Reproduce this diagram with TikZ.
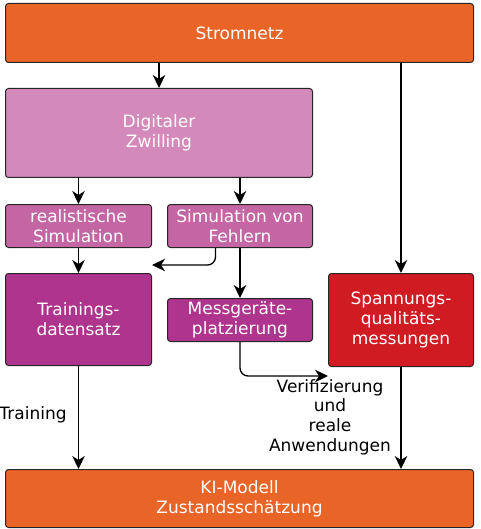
\documentclass[tikz,border=0pt]{standalone}
\usepackage{fontspec}
\setmainfont{DejaVu Sans}
\usetikzlibrary{arrows.meta}
\definecolor{corange}{RGB}{233,101,39}
\definecolor{cpinkA}{RGB}{211,137,185}
\definecolor{cpinkB}{RGB}{196,102,164}
\definecolor{cmag}{RGB}{175,52,142}
\definecolor{cred}{RGB}{209,27,34}
\begin{document}
\begin{tikzpicture}[x=1pt,y=-1pt,
  every node/.style={font=\fontsize{17pt}{19.7pt}\selectfont, align=center, inner sep=0pt},
  box/.style={draw=black!85, line width=1pt, rounded corners=3pt, text=white, anchor=north west},
  arr/.style={-{Stealth[length=13pt,width=12.5pt,inset=4pt]}, line width=1.3pt, black},
  lbl/.style={text=black}]
\useasboundingbox (0,0) rectangle (480,529);
\node[box, fill=corange, minimum width=468pt, minimum height=59pt] (strom) at (5,3) {Stromnetz};
\node[box, fill=cpinkA, minimum width=307pt, minimum height=89pt] (dz) at (5,88) {Digitaler\\Zwilling};
\node[box, fill=cpinkB, minimum width=146pt, minimum height=43pt] (real) at (5,204) {realistische\\Simulation};
\node[box, fill=cpinkB, minimum width=145pt, minimum height=43pt] (svf) at (167,204) {Simulation von\\Fehlern};
\node[box, fill=cmag, minimum width=146pt, minimum height=92pt] (train) at (5,273) {Trainings-\\datensatz};
\node[box, fill=cmag, minimum width=145pt, minimum height=43pt] (mess) at (167,298) {Messgeräte-\\platzierung};
\node[box, fill=cred, minimum width=145pt, minimum height=93pt] (spann) at (328,273) {Spannungs-\\qualitäts-\\messungen};
\node[box, fill=corange, minimum width=468pt, minimum height=58pt] (ki) at (5,469) {KI-Modell\\Zustandsschätzung};
\node[lbl] (ltrain) at (33,415) {Training};
\node[lbl] (lverif) at (330,417) {Verifizierung\\und\\reale\\Anwendungen};
\draw[arr] (strom.south -| dz.north) -- (dz.north);
\draw[arr] (strom.south -| spann.north) -- (spann.north);
\draw[arr] (dz.south -| real.north) -- (real.north);
\draw[arr] (dz.south -| svf.north) -- (svf.north);
\draw[arr] (real.south) -- (train.north -| real.south);
\draw[arr, rounded corners=8pt] ([xshift=-24.5pt]svf.south) |- ([yshift=8pt]train.north east);
\draw[arr] (svf.south) -- (mess.north);
\draw[arr, rounded corners=8pt] (mess.south) |- ([yshift=-9pt]spann.south west);
\draw[arr] (train.south) -- (ki.north -| train.south);
\draw[arr] (spann.south) -- (ki.north -| spann.south);
\end{tikzpicture}
\end{document}
